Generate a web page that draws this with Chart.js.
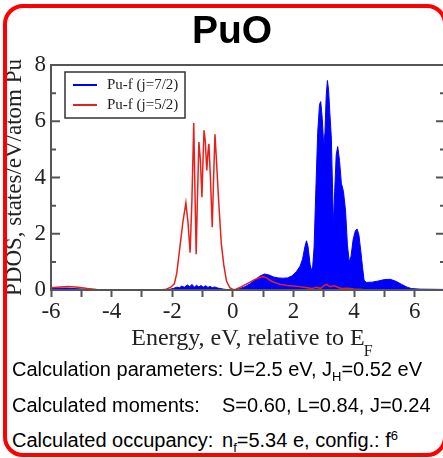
<!doctype html>
<html>
<head>
    <title>PuO PDOS</title>
    <script src="https://cdn.jsdelivr.net/npm/chart.js@4/dist/chart.umd.min.js"></script>
    <style>
        html, body { margin: 0; padding: 0; width: 443px; height: 458px; overflow: hidden; background: #fff; }
        * { font-family: "Liberation Sans", Arial, sans-serif; }
        #wrap { position: absolute; left: 0; top: 0; width: 450px; height: 360px; }
        #box { position: absolute; left: 3px; top: 4px; width: 436px; height: 445px; border: 4px solid #ff0000; border-radius: 20px; pointer-events: none; }
        #title { position: absolute; top: 10px; left: 232px; transform: translateX(-50%); font-size: 39px; line-height: 39px; font-weight: bold; color: #000; }
        .info { position: absolute; left: 12px; font-size: 20px; line-height: 20px; color: #000; white-space: nowrap; }
        .info span.v { position: absolute; left: 210px; }
        sub, sup { font-size: 13px; line-height: 0; }
        sub { vertical-align: -5px; }
        sup { vertical-align: 7px; }
    </style>
</head>
<body>
    <div id="wrap"><canvas id="myChart" width="450" height="360"></canvas></div>
    <div id="title">PuO</div>
    <div class="info" style="top:359px">Calculation parameters: U=2.5 eV, J<sub>H</sub>=0.52 eV</div>
    <div class="info" style="top:395px">Calculated moments:<span class="v">S=0.60, L=0.84, J=0.24</span></div>
    <div class="info" style="top:430px">Calculated occupancy:<span class="v">n<sub>f</sub>=5.34 e, config.: f<sup>6</sup></span></div>
    <div id="box"></div>
    <script>
    // Pu-f (j=7/2)
    var energy72 = [-6, -5.8, -5.5, -5.2, -4.9, -4.6, -4, -3, -2.3, -2.1, -1.95, -1.85, -1.75, -1.7, -1.6, -1.5, -1.42, -1.35, -1.27, -1.2,
        -1.12, -1.05, -0.98, -0.9, -0.82, -0.75, -0.68, -0.6, -0.5, -0.4, -0.3, -0.15, 0, 0.2, 0.4, 0.57, 0.75, 0.9, 1.05, 1.2,
        1.35, 1.5, 1.65, 1.8, 1.95, 2.1, 2.22, 2.3, 2.38, 2.43, 2.48, 2.55, 2.62, 2.68, 2.74, 2.8, 2.86, 2.9, 2.95, 3.0,
        3.04, 3.08, 3.12, 3.16, 3.2, 3.25, 3.29, 3.32, 3.36, 3.41, 3.46, 3.52, 3.58, 3.65, 3.72, 3.78, 3.84, 3.9, 3.97, 4.04,
        4.1, 4.16, 4.22, 4.28, 4.33, 4.4, 4.6, 4.8, 5.0, 5.2, 5.4, 5.57, 5.75, 5.9, 6.2, 7];
    var pdos72 = [0.05, 0.06, 0.07, 0.05, 0.03, 0.01, 0, 0, 0, 0.02, 0.06, 0.1, 0.08, 0.14, 0.1, 0.18, 0.12, 0.2, 0.1, 0.17,
        0.11, 0.16, 0.1, 0.15, 0.09, 0.13, 0.08, 0.11, 0.07, 0.05, 0.03, 0.01, 0, 0.04, 0.12, 0.22, 0.38, 0.5, 0.57, 0.53,
        0.46, 0.43, 0.42, 0.43, 0.5, 0.66, 0.85, 1.1, 1.55, 1.75, 1.55, 0.9, 0.62, 1.5, 3.6, 5.6, 6.6, 6.7, 6.1, 5.1,
        5.6, 6.9, 7.45, 7.1, 6.3, 5.4, 3.6, 2.3, 3.5, 4.8, 5.1, 4.6, 3.8, 3.5, 2.8, 1.6, 1.0, 1.2, 1.8, 2.1,
        2.17, 1.95, 1.4, 0.8, 0.35, 0.27, 0.28, 0.32, 0.37, 0.38, 0.3, 0.2, 0.1, 0.05, 0.03, 0.02];

    // Pu-f (j=5/2)
    var energy52 = [-6, -5.7, -5.43, -5.1, -4.8, -4.5, -4, -3, -2.4, -2.2, -2.05, -1.93, -1.85, -1.75, -1.65, -1.55, -1.48, -1.41, -1.35, -1.29,
        -1.25, -1.21, -1.17, -1.12, -1.07, -1.02, -0.98, -0.95, -0.91, -0.86, -0.82, -0.79, -0.74, -0.68, -0.64, -0.59, -0.54, -0.47, -0.38, -0.3,
        -0.21, -0.1, 0, 0.1, 0.25, 0.46, 0.7, 0.9, 1.0, 1.1, 1.25, 1.4, 1.57, 1.8, 2.0, 2.2, 2.46, 2.6, 2.75, 2.9,
        3.0, 3.1, 3.2, 3.35, 3.5, 3.6, 3.8, 4.0, 4.3, 5, 6, 7];
    var pdos52 = [0.08, 0.11, 0.12, 0.1, 0.05, 0.02, 0, 0, 0, 0.03, 0.1, 0.22, 0.6, 1.5, 2.4, 3.1, 2.4, 1.33, 3.2, 5.94,
        3.5, 1.27, 3.2, 5.26, 4.6, 3.3, 4.8, 5.68, 5.3, 4.25, 4.9, 5.2, 4.0, 2.23, 3.8, 5.54, 4.6, 3.2, 1.64, 0.9,
        0.32, 0.08, 0.02, 0.03, 0.1, 0.22, 0.36, 0.45, 0.47, 0.44, 0.33, 0.26, 0.2, 0.16, 0.14, 0.12, 0.08, 0.05, 0.1, 0.06,
        0.15, 0.2, 0.12, 0.15, 0.08, 0.05, 0.06, 0.04, 0.02, 0.01, 0, 0];

    var xTicks = [-6, -4, -2, 0, 2, 4, 6];
    var yTicks = [0, 2, 4, 6, 8];
    var labels = ['Pu-f (j=7/2)', 'Pu-f (j=5/2)'];

    function pairs(xs, ys) {
        return xs.map(function(x, i) { return {x: x, y: ys[i]}; });
    }

    var serif = '"Liberation Serif", "Times New Roman", serif';
    var axisColor = '#555';
    var textColor = '#222';

    // frame, inward y ticks, legend and the E_F subscript
    var extras = {
        id: 'extras',
        afterDraw: function(chart) {
            var ctx = chart.ctx, a = chart.chartArea, y = chart.scales.y, x = chart.scales.x;
            ctx.save();
            ctx.strokeStyle = axisColor;
            ctx.lineWidth = 2;
            ctx.strokeRect(a.left, a.top, a.right - a.left, a.bottom - a.top);
            for (var v = 0; v <= 8; v++) {
                var py = y.getPixelForValue(v);
                var len = v % 2 ? 5 : 9;
                ctx.beginPath();
                ctx.moveTo(a.left, py); ctx.lineTo(a.left + len, py);
                ctx.moveTo(a.right, py); ctx.lineTo(a.right - len, py);
                ctx.stroke();
            }
            // legend
            var lx = a.left + 14, ly = a.top + 7;
            ctx.lineWidth = 1.5;
            ctx.strokeStyle = '#333';
            ctx.fillStyle = '#fff';
            ctx.fillRect(lx, ly, 120, 46);
            ctx.strokeRect(lx, ly, 120, 46);
            ctx.font = '15px ' + serif;
            ctx.textBaseline = 'middle';
            chart.data.datasets.forEach(function(ds, i) {
                var ty = ly + 13 + i * 20;
                ctx.strokeStyle = ds.borderColor;
                ctx.lineWidth = 2;
                ctx.beginPath();
                ctx.moveTo(lx + 8, ty); ctx.lineTo(lx + 32, ty);
                ctx.stroke();
                ctx.fillStyle = textColor;
                ctx.fillText(ds.label, lx + 42, ty);
            });
            // subscript F of the x title
            ctx.font = '24px ' + serif;
            var w = ctx.measureText(x.options.title.text).width;
            var cx = (a.left + a.right) / 2;
            ctx.font = '16px ' + serif;
            ctx.fillStyle = textColor;
            ctx.textBaseline = 'alphabetic';
            ctx.fillText('F', cx + w / 2 - 1, 356);
            ctx.restore();
        }
    };

    var ctx = document.getElementById('myChart').getContext('2d');
    new Chart(ctx, {
        type: 'line',
        data: {
            datasets: [
                {
                    label: labels[0],
                    data: pairs(energy72, pdos72),
                    borderColor: '#0000ff',
                    backgroundColor: '#0000ff',
                    borderWidth: 1,
                    fill: 'origin',
                    pointRadius: 0,
                    order: 1
                },
                {
                    label: labels[1],
                    data: pairs(energy52, pdos52),
                    borderColor: '#e8201c',
                    borderWidth: 1.5,
                    fill: false,
                    pointRadius: 0,
                    order: 0
                }
            ]
        },
        options: {
            responsive: false,
            animation: false,
            layout: { padding: { top: 65, right: 5, left: 0, bottom: 0 } },
            plugins: { legend: { display: false }, tooltip: { enabled: false } },
            scales: {
                x: {
                    type: 'linear',
                    min: -6,
                    max: 7,
                    afterFit: function(s) { s.height = 70; },
                    grid: { drawOnChartArea: false, tickLength: 7, tickWidth: 2, tickColor: axisColor },
                    border: { color: axisColor, width: 2 },
                    ticks: {
                        stepSize: 1,
                        autoSkip: false,
                        maxRotation: 0,
                        padding: 1,
                        color: textColor,
                        font: { family: serif, size: 23 },
                        callback: function(v) { return xTicks.indexOf(v) >= 0 ? String(v) : ''; }
                    },
                    title: {
                        display: true,
                        text: 'Energy, eV, relative to E',
                        color: textColor,
                        font: { family: serif, size: 24 },
                        padding: { top: 0, bottom: 7 }
                    }
                },
                y: {
                    min: 0,
                    max: 8,
                    afterFit: function(s) { s.width = 51; },
                    grid: { display: false, drawTicks: false },
                    border: { color: axisColor, width: 2 },
                    ticks: {
                        stepSize: 2,
                        padding: 5,
                        color: textColor,
                        font: { family: serif, size: 23 },
                        callback: function(v) { return yTicks.indexOf(v) >= 0 ? String(v) : ''; }
                    },
                    title: {
                        display: true,
                        text: 'PDOS, states/eV/atom Pu',
                        color: textColor,
                        font: { family: serif, size: 23 },
                        padding: { top: 1, bottom: 1 }
                    }
                }
            }
        },
        plugins: [extras]
    });
    </script>
</body>
</html>
